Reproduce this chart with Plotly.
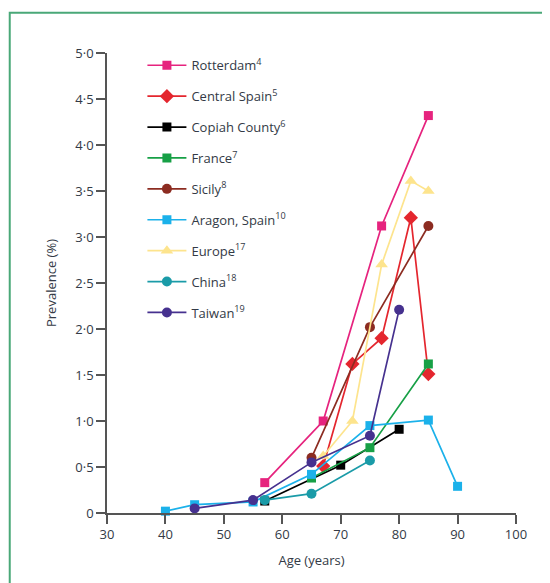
import plotly.graph_objects as go

# ---- data ----
rotterdam_age = [57, 67, 77, 85]
rotterdam_val = [0.33, 1.0, 3.12, 4.32]

cspain_age = [67, 72, 77, 82, 85]
cspain_val = [0.51, 1.62, 1.9, 3.21, 1.51]

copiah_age = [57, 70, 80]
copiah_val = [0.13, 0.52, 0.91]

france_age = [65, 75, 85]
france_val = [0.38, 0.71, 1.62]

sicily_age = [65, 75, 85]
sicily_val = [0.6, 2.02, 3.12]

aragon_age = [40, 45, 55, 65, 75, 85, 90]
aragon_val = [0.02, 0.09, 0.12, 0.42, 0.95, 1.01, 0.29]

europe_age = [67, 72, 77, 82, 85]
europe_val = [0.62, 1.0, 2.7, 3.61, 3.5]

china_age = [57, 65, 75]
china_val = [0.14, 0.21, 0.57]

taiwan_age = [45, 55, 65, 75, 80]
taiwan_val = [0.05, 0.14, 0.55, 0.84, 2.21]

y_ticks = [0, 0.5, 1, 1.5, 2, 2.5, 3, 3.5, 4, 4.5, 5]
y_tick_labels = ["0", "0·5", "1·0", "1·5", "2·0", "2·5", "3·0", "3·5", "4·0", "4·5", "5·0"]
x_ticks = [30, 40, 50, 60, 70, 80, 90, 100]

series = [
    ("Rotterdam<sup>4</sup>", rotterdam_age, rotterdam_val, "#e6237e", "square", 9),
    ("Central Spain<sup>5</sup>", cspain_age, cspain_val, "#e4262e", "diamond", 11),
    ("Copiah County<sup>6</sup>", copiah_age, copiah_val, "#000000", "square", 9),
    ("France<sup>7</sup>", france_age, france_val, "#17a046", "square", 9),
    ("Sicily<sup>8</sup>", sicily_age, sicily_val, "#8c2c21", "circle", 10),
    ("Aragon, Spain<sup>10</sup>", aragon_age, aragon_val, "#1bb1ea", "square", 9),
    ("Europe<sup>17</sup>", europe_age, europe_val, "#fde48d", "triangle-up", 11),
    ("China<sup>18</sup>", china_age, china_val, "#1a9ba8", "circle", 10),
    ("Taiwan<sup>19</sup>", taiwan_age, taiwan_val, "#46318f", "circle", 10),
]

FONT = "Open Sans"
TXT = "#333a46"

fig = go.Figure()
for i, (name, xs, ys, col, sym, sz) in enumerate(series):
    fig.add_trace(go.Scatter(
        x=xs, y=ys, name=name, mode="lines+markers",
        legendgroup=f"g{i}",
        line=dict(color=col, width=1.7),
        marker=dict(color=col, symbol=sym, size=sz, line=dict(width=0)),
        cliponaxis=False,
    ))

# page body has an 8px margin, so figure coords = screen coords - 8
OFF = 8
W, H = 550 - OFF, 583 - OFF
L, R = 106.5 - OFF, 516.5 - OFF
T, B = 52.7 - OFF, 512.7 - OFF
pw, ph = R - L, B - T

def px2paper_x(p):
    return (p - OFF - L) / pw

def px2paper_y(p):
    return (B - (p - OFF)) / ph

fig.update_layout(
    width=W, height=H,
    margin=dict(l=L, r=W - R, t=T, b=H - B, pad=0),
    paper_bgcolor="white", plot_bgcolor="white",
    font=dict(family=FONT, size=13, color=TXT),
    showlegend=True,
    legend=dict(
        x=px2paper_x(142), y=px2paper_y(50), xanchor="left", yanchor="top",
        bgcolor="rgba(0,0,0,0)", font=dict(family=FONT, size=13, color=TXT),
        tracegroupgap=11, itemwidth=39,
    ),
    xaxis=dict(
        range=[30, 100], tickvals=x_ticks, ticktext=[str(v) for v in x_ticks],
        showgrid=False, zeroline=False, showline=True, linecolor="#555555", linewidth=1.5,
        ticks="outside", ticklen=9, tickwidth=1.5, tickcolor="#555555",
        tickfont=dict(family=FONT, size=13, color=TXT),
        title=dict(text="Age (years)", font=dict(family=FONT, size=13, color=TXT), standoff=14),
    ),
    yaxis=dict(
        range=[0, 5], tickvals=y_ticks, ticktext=y_tick_labels,
        showgrid=False, zeroline=False, showline=True, linecolor="#555555", linewidth=1.5,
        ticks="outside", ticklen=9, tickwidth=1.5, tickcolor="#555555",
        tickfont=dict(family=FONT, size=13, color=TXT),
        title=dict(text="Prevalence (%)", font=dict(family=FONT, size=13, color=TXT), standoff=16),
    ),
    shapes=[dict(
        type="rect", xref="paper", yref="paper",
        x0=px2paper_x(9), x1=px2paper_x(600), y0=px2paper_y(640), y1=px2paper_y(12.5),
        line=dict(color="#4aa878", width=2), fillcolor="rgba(0,0,0,0)", layer="below",
    )],
)

fig.write_html("out.html")
